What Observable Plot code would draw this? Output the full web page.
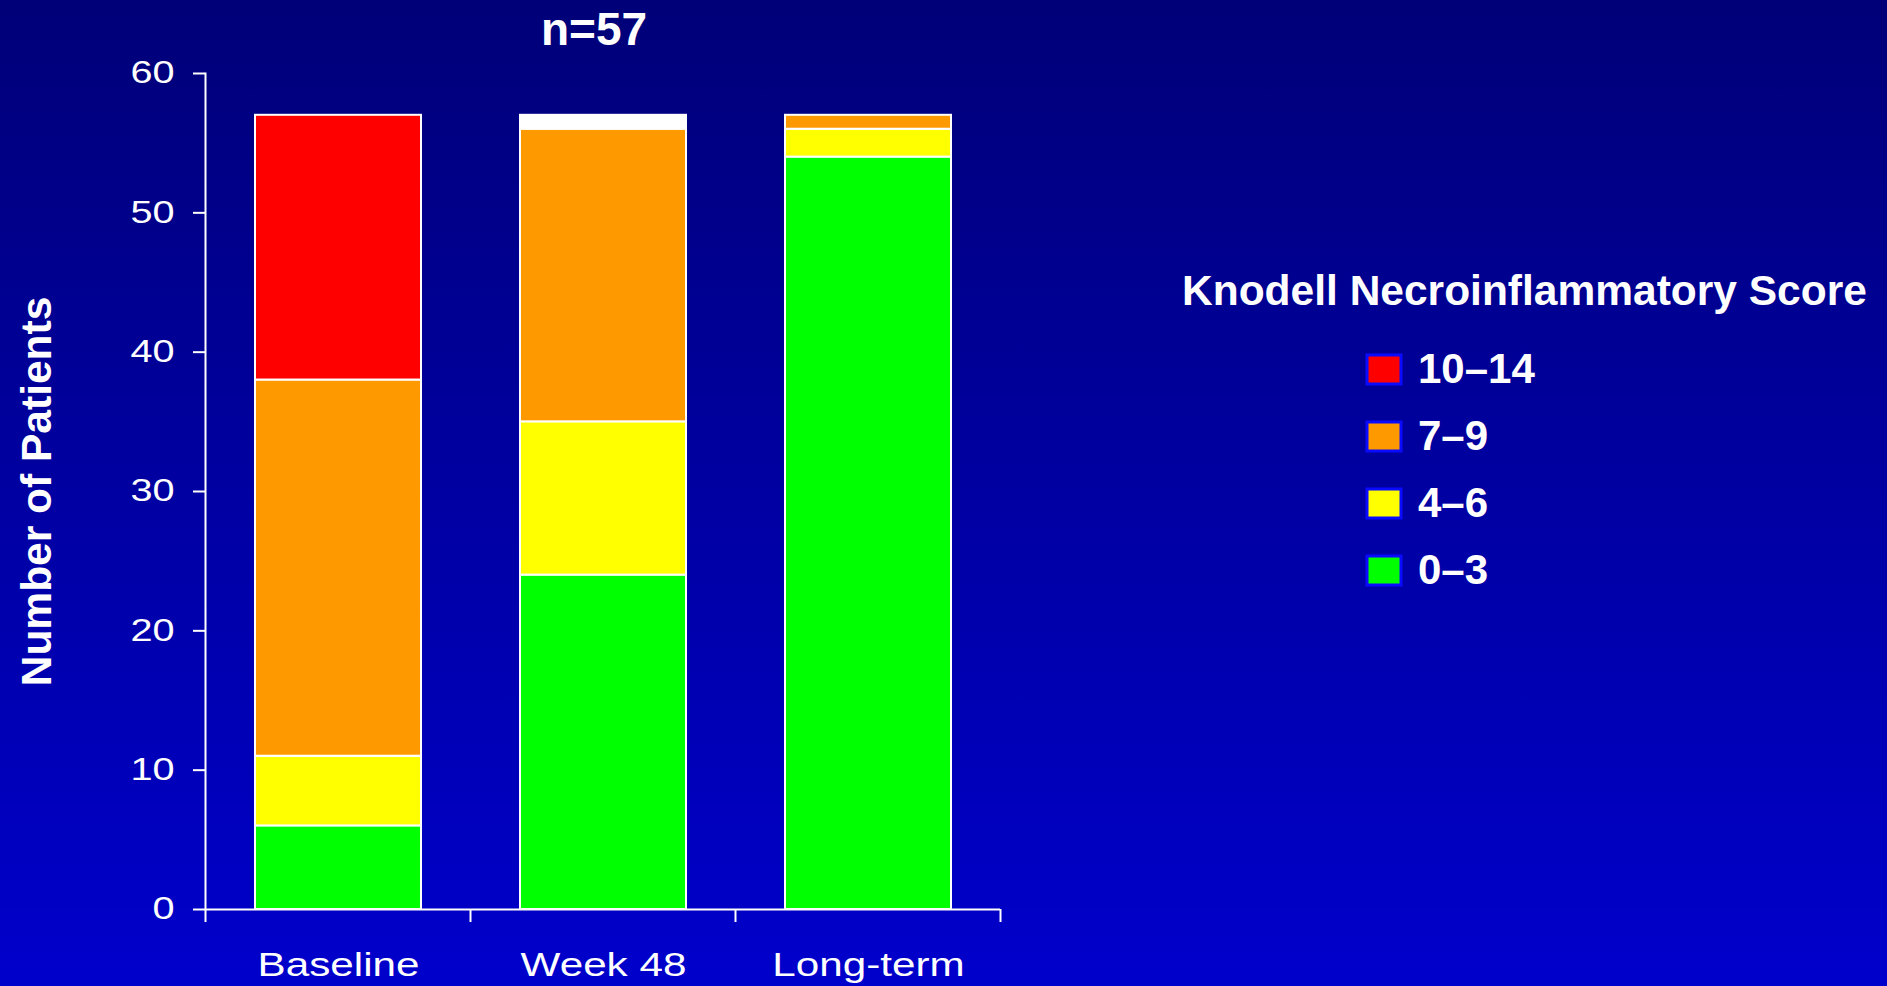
<!DOCTYPE html>
<html><head><meta charset="utf-8">
<script src="https://cdn.jsdelivr.net/npm/d3@7"></script>
<script src="https://cdn.jsdelivr.net/npm/@observablehq/plot@0.6"></script>
<style>
html,body{margin:0;padding:0;width:1887px;height:986px;overflow:hidden;}
body{background:linear-gradient(to bottom, rgb(0,0,120), rgb(0,0,204));font-family:"Liberation Sans",Arial,sans-serif;position:relative;}
#chart{position:absolute;left:0;top:0;}
#legend-title{position:absolute;left:1182px;top:269.5px;font:bold 42.5px/42px "Liberation Sans",Arial,sans-serif;color:#fff;white-space:nowrap;}
#legend{position:absolute;left:1367px;top:335.5px;}
#legend .kn-swatch{height:67px;display:flex;align-items:center;padding:0;margin:0;overflow:visible;}
#legend .kn-swatch svg{margin-right:17px;}
#legend .kn-swatch svg rect{stroke:#0a0aff;stroke-width:3px;}
#legend div{overflow:visible !important;text-overflow:clip !important;}
</style></head><body>
<div id="chart"></div>
<div id="legend-title">Knodell Necroinflammatory Score</div>
<div id="legend"></div>
<script>
// ---- data ----
const categories = ["Baseline", "Week 48", "Long-term"];
const scores = ["0–3", "4–6", "7–9", "10–14", "Missing"];
const scoreColors = ["#00ff00", "#ffff00", "#ff9900", "#ff0000", "#ffffff"];
const legendScores = ["10–14", "7–9", "4–6", "0–3"];
const legendColors = ["#ff0000", "#ff9900", "#ffff00", "#00ff00"];
const count_0_3 = [6, 24, 54];
const count_4_6 = [5, 11, 2];
const count_7_9 = [27, 21, 1];
const count_10_14 = [19, 0, 0];
const count_missing = [0, 1, 0];
const yTicks = [0, 10, 20, 30, 40, 50, 60];
const titleText = "n=57";
const yLabel = "Number of Patients";

const series = [count_0_3, count_4_6, count_7_9, count_10_14, count_missing];
const rows = [];
scores.forEach((s, si) => categories.forEach((c, ci) => {
  if (series[si][ci] > 0) rows.push({period: c, score: s, count: series[si][ci]});
}));

const FONT = '"Liberation Sans", Arial, sans-serif';
const chart = Plot.plot({
  width: 1100,
  height: 986,
  marginLeft: 205,
  marginRight: 100,
  marginTop: 73,
  marginBottom: 77,
  style: {background: "transparent", color: "white", fontFamily: FONT, overflow: "visible"},
  x: {domain: categories, paddingInner: 0.374, paddingOuter: 0.187, label: null},
  y: {domain: [0, 60], ticks: yTicks, label: null},
  color: {domain: scores, range: scoreColors},
  marks: [
    Plot.barY(rows, Plot.stackY({x: "period", y: "count", fill: "score", order: scores, stroke: "white", strokeWidth: 2})),
    Plot.axisY({ticks: yTicks, tickSize: 12, tickPadding: 19, strokeWidth: 2, stroke: "white", fill: "white", fontSize: 31, label: null}),
    Plot.axisX({tickSize: 0, tickPadding: 43, fill: "white", fontSize: 33, label: null}),
    Plot.frame({anchor: "left", stroke: "white", strokeWidth: 2}),
    Plot.ruleY([0], {stroke: "white", strokeWidth: 2}),
    Plot.text([titleText], {frameAnchor: "top", lineAnchor: "top", dy: -61, dx: -9, fontSize: 46, fontWeight: "bold", fill: "white"}),
    Plot.text([yLabel], {frameAnchor: "left", textAnchor: "middle", lineAnchor: "middle", dx: -168, rotate: -90, fontSize: 42.5, fontWeight: "bold", fill: "white"})
  ]
});

// boundary ticks below the x axis, positioned with the plot's own scales
const xs = chart.scale("x"), ys = chart.scale("y");
const gap = (xs.step - xs.bandwidth) / 2;
const bounds = categories.map(c => xs.apply(c) - gap);
bounds.push(xs.apply(categories[categories.length - 1]) + xs.bandwidth + gap);
const y0 = ys.apply(0);
d3.select(chart).append("g").attr("stroke", "white").attr("stroke-width", 2)
  .selectAll("line").data(bounds).join("line")
  .attr("x1", d => d).attr("x2", d => d).attr("y1", y0).attr("y2", y0 + 13);

// the reference's regular-weight tick labels are horizontally stretched
function stretch(sel, k) {
  sel.each(function () {
    const t = this.getAttribute("transform") || "";
    const x = +this.getAttribute("x") || 0, y = +this.getAttribute("y") || 0;
    this.setAttribute("transform", `${t} translate(${x},${y}) scale(${k},1) translate(${-x},${-y})`);
  });
}
stretch(d3.select(chart).selectAll('g[aria-label="y-axis tick label"] text'), 1.28);
stretch(d3.select(chart).selectAll('g[aria-label="x-axis tick label"] text'), 1.28);
d3.select(chart).selectAll('g[aria-label="y-axis tick label"]').attr("font-size", 31);
d3.select(chart).selectAll('g[aria-label="x-axis tick label"]').attr("font-size", 33);

document.getElementById("chart").appendChild(chart);

const legend = Plot.legend({
  color: {domain: legendScores, range: legendColors},
  legend: "swatches",
  columns: 1,
  className: "kn",
  swatchWidth: 34,
  swatchHeight: 29,
  style: {fontFamily: FONT, fontSize: "42px", fontWeight: "bold", color: "white", lineHeight: "48px", margin: "0"}
});
document.getElementById("legend").appendChild(legend);
</script>
</body></html>
